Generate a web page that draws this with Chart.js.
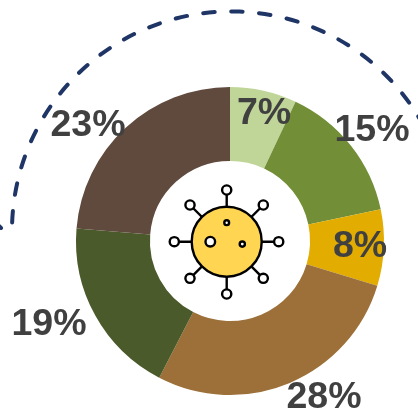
<!DOCTYPE html>
<html>
<head>
<meta charset="utf-8">
<title>Donut</title>
<script src="https://cdn.jsdelivr.net/npm/chart.js@4"></script>
<style>
  html, body { margin: 0; padding: 0; background: #fff; }
  #wrap { position: relative; width: 418px; height: 412px; overflow: hidden; }
</style>
</head>
<body>
<div id="wrap"><canvas id="donut" width="418" height="412"></canvas></div>
<script>
  const categories = ['A', 'B', 'C', 'D', 'E', 'F'];
  const shares = [7, 14.7, 8, 27.9, 18.7, 23.7];
  const shareLabels = ['7%', '15%', '8%', '28%', '19%', '23%'];
  const sliceColors = ['#c0d698', '#728e36', '#e2ac00', '#9c7038', '#4a5a2a', '#604a3e'];

  // label centres, offset from the ring centre
  const labelOffsets = [[34, -127], [142, -110], [130, 6], [94, 157], [-181, 84], [-142, -115]];

  const dashedArc = {
    id: 'dashedArc',
    beforeDraw(chart) {
      const c = chart.ctx;
      c.save();
      c.strokeStyle = '#1f3566';
      c.lineWidth = 4;
      c.lineCap = 'round';
      c.setLineDash([11.5, 16.5]);
      c.beginPath();
      c.arc(231.2, 230.6, 219.2, Math.PI + 0.037, Math.PI * 2 - 0.45);
      c.stroke();
      // stray dash cut off by the left edge
      c.setLineDash([]);
      c.beginPath();
      c.moveTo(-1, 226);
      c.lineTo(1, 228);
      c.stroke();
      c.restore();
    }
  };

  const pctLabels = {
    id: 'pctLabels',
    afterDraw(chart) {
      const c = chart.ctx;
      const arc = chart.getDatasetMeta(0).data[0];
      c.save();
      c.font = 'bold 37.5px "Liberation Sans"';
      c.fillStyle = '#404040';
      c.textAlign = 'center';
      c.textBaseline = 'middle';
      shareLabels.forEach((t, i) => {
        c.fillText(t, arc.x + labelOffsets[i][0], arc.y + labelOffsets[i][1]);
      });
      c.restore();
    }
  };

  // virus icon in the hole
  const virusIcon = {
    id: 'virusIcon',
    afterDraw(chart) {
      const c = chart.ctx;
      const x = 226.7, y = 241.7;
      const dirs = [[0, -51.7], [36.6, -36.7], [52, 0], [36.6, 36.6], [0, 52.3], [-36.7, 36.6], [-52.4, 0], [-36.7, -36.7]];
      c.save();
      c.strokeStyle = '#000';
      c.lineWidth = 2.4;
      dirs.forEach(d => {
        c.beginPath();
        c.moveTo(x, y);
        c.lineTo(x + d[0], y + d[1]);
        c.stroke();
        c.beginPath();
        c.arc(x + d[0], y + d[1], 4.6, 0, Math.PI * 2);
        c.fillStyle = '#fff';
        c.fill();
        c.stroke();
      });
      c.beginPath();
      c.arc(x, y, 35, 0, Math.PI * 2);
      c.fillStyle = '#ffd552';
      c.fill();
      c.stroke();
      [[0, -19, 2.4], [-16.4, 0, 4.8], [15.6, 2.4, 2.6]].forEach(h => {
        c.beginPath();
        c.arc(x + h[0], y + h[1], h[2], 0, Math.PI * 2);
        c.fillStyle = '#fff';
        c.fill();
        c.stroke();
      });
      c.restore();
    }
  };

  new Chart(document.getElementById('donut'), {
    type: 'doughnut',
    data: {
      labels: categories,
      datasets: [{
        data: shares,
        backgroundColor: sliceColors,
        borderWidth: 0
      }]
    },
    options: {
      responsive: false,
      animation: false,
      cutout: '52%',
      layout: { padding: { left: 76, right: 34, top: 87, bottom: 17 } },
      plugins: {
        legend: { display: false },
        tooltip: { enabled: false }
      }
    },
    plugins: [dashedArc, virusIcon, pctLabels]
  });
</script>
</body>
</html>
